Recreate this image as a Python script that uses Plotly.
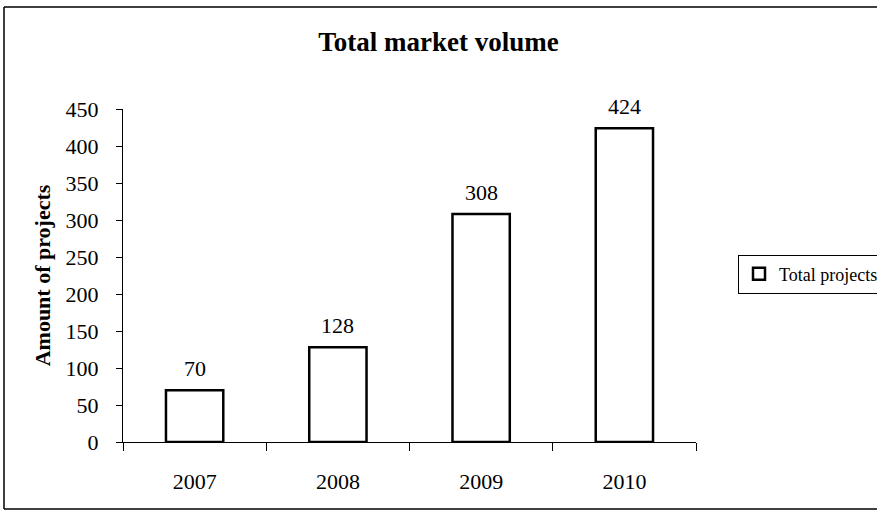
import plotly.graph_objects as go

years = ["2007", "2008", "2009", "2010"]
total_projects = [70, 128, 308, 424]
y_ticks = [0, 50, 100, 150, 200, 250, 300, 350, 400, 450]

FONT = "Liberation Serif"
L, R, T, B = 123, 696, 109, 442
PW, PH = R - L, B - T

fig = go.Figure()
fig.add_trace(go.Bar(
    x=years, y=total_projects, name="Total projects",
    marker=dict(color="white", line=dict(color="black", width=2.5)),
))

for i, v in enumerate(total_projects):
    fig.add_annotation(x=i, y=v, text=str(v), showarrow=False, yanchor="middle",
                       yshift=22, font=dict(family=FONT, size=22, color="black"))

fig.update_layout(
    width=877, height=513,
    margin=dict(l=L, r=877 - R, t=T, b=513 - B, autoexpand=False),
    paper_bgcolor="white", plot_bgcolor="white",
    font=dict(family=FONT, size=22, color="black"),
    title=dict(text="<b>Total market volume</b>", x=0.5, xref="container", xanchor="center",
               y=1 - 42 / 513, yref="container", yanchor="middle",
               font=dict(family=FONT, size=27, color="black")),
    bargap=0.6,
    showlegend=True,
    legend=dict(x=(738 - L) / PW, y=(B - 274) / PH, xanchor="left", yanchor="middle",
                bordercolor="black", borderwidth=1, bgcolor="white",
                font=dict(family=FONT, size=18, color="black"),
                itemwidth=30),
    xaxis=dict(type="category", categoryorder="array", categoryarray=years,
               range=[-0.5, len(years) - 0.5],
               showline=True, linecolor="black", linewidth=1, ticks="outside",
               tickson="boundaries", ticklen=8, tickcolor="black", showgrid=False,
               ticklabelstandoff=20, tickfont=dict(family=FONT, size=22)),
    yaxis=dict(range=[0, 450], tickvals=y_ticks, showline=True, linecolor="black",
               linewidth=1, ticks="outside", ticklen=6, tickcolor="black", showgrid=False,
               zeroline=False, ticklabelstandoff=13, tickfont=dict(family=FONT, size=22),
               title=dict(text="<b>Amount of projects</b>", standoff=8,
                          font=dict(family=FONT, size=22))),
)

# outer frame
for (x0, y0, x1, y1) in [(4, 7, 877, 7), (4, 7, 4, 509), (4, 509, 877, 509)]:
    fig.add_shape(type="line", xref="paper", yref="paper",
                  x0=(x0 - L) / PW, x1=(x1 - L) / PW,
                  y0=(B - y0) / PH, y1=(B - y1) / PH,
                  line=dict(color="black", width=1.5))

fig.write_html("out.html", config={"displayModeBar": False},
               post_script="document.body.style.margin='0';document.body.style.overflow='hidden';")
